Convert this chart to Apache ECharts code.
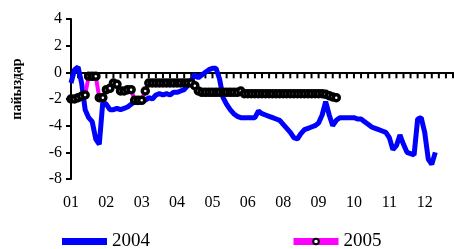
<!DOCTYPE html>
<html>
<head>
<meta charset="utf-8">
<script src="https://cdn.jsdelivr.net/npm/echarts@6/dist/echarts.min.js"></script>
<style>
  html, body { margin: 0; padding: 0; background: #fff; }
  #chart { width: 454px; height: 249px; }
</style>
</head>
<body>
<div id="chart"></div>
<script>
// x categories: 109 points, month label every 10th point (07 is missing on the original)
var monthLabels = ['01', '02', '03', '04', '05', '06', '08', '09', '10', '11', '12'];
var categories = [];
for (var i = 0; i < 109; i++) {
    categories.push(i % 10 === 0 ? monthLabels[i / 10] : '');
}

var yTicks = [4, 2, 0, -2, -4, -6, -8];

var values2004 = [
    -0.8, 0.2, 0.4, -0.8, -2.8, -3.4, -3.7, -5.0, -5.4, -2.2,
    -2.4, -2.8, -2.8, -2.7, -2.8, -2.7, -2.6, -2.4, -2.2, -2.3,
    -2.0, -2.1, -1.9, -2.0, -1.7, -1.6, -1.7, -1.6, -1.7, -1.5,
    -1.5, -1.4, -1.3, -1.0, -0.6, -0.2, -0.4, -0.2, 0.0, 0.2,
    0.3, 0.3, -0.5, -1.9, -2.4, -2.8, -3.1, -3.3, -3.4, -3.4,
    -3.4, -3.4, -3.4, -2.9, -3.1, -3.2, -3.3, -3.4, -3.5, -3.6,
    -3.9, -4.2, -4.5, -4.9, -5.0, -4.6, -4.3, -4.2, -4.1, -4.0,
    -3.8, -3.2, -2.2, -3.2, -4.0, -3.6, -3.4, -3.4, -3.4, -3.4,
    -3.4, -3.5, -3.5, -3.7, -3.9, -4.1, -4.2, -4.3, -4.4, -4.5,
    -4.9, -5.8, -5.5, -4.7, -5.4, -6.0, -6.1, -6.2, -3.5, -3.4,
    -4.5, -6.5, -6.9, -6.0
];

var values2005 = [
    -2.0, -2.0, -1.9, -1.8, -1.7, -0.3, -0.3, -0.3, -1.9, -1.9,
    -1.3, -1.2, -0.8, -0.9, -1.4, -1.4, -1.3, -1.3, -2.1, -2.1,
    -2.1, -1.4, -0.8, -0.8, -0.8, -0.8, -0.8, -0.8, -0.8, -0.8,
    -0.8, -0.8, -0.8, -0.8, -0.8, -1.0, -1.4, -1.5, -1.5, -1.5,
    -1.5, -1.5, -1.5, -1.5, -1.5, -1.5, -1.5, -1.5, -1.4, -1.6,
    -1.6, -1.6, -1.6, -1.6, -1.6, -1.6, -1.6, -1.6, -1.6, -1.6,
    -1.6, -1.6, -1.6, -1.6, -1.6, -1.6, -1.6, -1.6, -1.6, -1.6,
    -1.6, -1.6, -1.65, -1.75, -1.85, -1.9
];

// tick marks on the zero line: one every two points
var zeroTicks = [];
for (var k = 0; k < categories.length; k += 2) {
    zeroTicks.push([k, 0]);
}

var serif = 'Liberation Serif';
var myChart = echarts.init(document.getElementById('chart'));

var option = {
    animation: false,
    textStyle: { fontFamily: serif, color: '#000' },
    grid: { left: 71, right: 1, top: 19, bottom: 70 },
    graphic: [{
        // подпись оси Y
        type: 'text',
        x: 17,
        y: 89,
        rotation: Math.PI / 2,
        style: {
            text: 'пайыздар',
            font: 'bold 14px "Liberation Serif"',
            fill: '#000',
            textAlign: 'center',
            textVerticalAlign: 'middle'
        }
    }],
    legend: {
        left: 62,
        bottom: -2,
        padding: 0,
        itemGap: 140,
        itemWidth: 45,
        itemHeight: 7,
        textStyle: { fontFamily: serif, fontSize: 19, color: '#000' },
        data: [
            { name: '2004', icon: 'rect' },
            { name: '2005', lineStyle: { width: 7 } }
        ]
    },
    xAxis: [{
        type: 'category',
        data: categories,
        boundaryGap: false,
        axisLine: { show: true, onZero: true, lineStyle: { color: '#000', width: 2 } },
        axisTick: { show: false },
        axisLabel: {
            interval: 9,
            margin: 16,
            fontFamily: serif,
            fontSize: 16,
            color: '#000'
        },
        splitLine: { show: false }
    }],
    yAxis: {
        type: 'value',
        min: -8,
        max: 4,
        interval: 2,
        axisLine: { show: true, lineStyle: { color: '#000', width: 2 } },
        axisTick: { show: true, length: 5, lineStyle: { color: '#000', width: 2 } },
        axisLabel: {
            margin: 9,
            fontFamily: serif,
            fontSize: 16,
            color: '#000',
            formatter: function(v) { return yTicks.indexOf(v) >= 0 ? String(v) : ''; }
        },
        splitLine: { show: false }
    },
    series: [{
        // небольшие засечки на нулевой линии
        type: 'scatter',
        data: zeroTicks,
        silent: true,
        clip: false,
        z: 1,
        symbol: 'rect',
        symbolSize: [2, 6],
        symbolOffset: [0, 3],
        itemStyle: { color: '#000', opacity: 1 }
    }, {
        name: '2004',
        type: 'line',
        data: values2004,
        symbol: 'none',
        z: 2,
        itemStyle: { color: '#0000FF' },
        lineStyle: { color: '#0000FF', width: 5 }
    }, {
        name: '2005',
        type: 'line',
        data: values2005,
        z: 3,
        symbol: 'circle',
        symbolSize: 6,
        showSymbol: true,
        showAllSymbol: true,
        itemStyle: { color: '#FFFFFF', borderColor: '#000', borderWidth: 3.5 },
        lineStyle: { color: '#FF00FF', width: 4 }
    }]
};

myChart.setOption(option);
</script>
</body>
</html>
